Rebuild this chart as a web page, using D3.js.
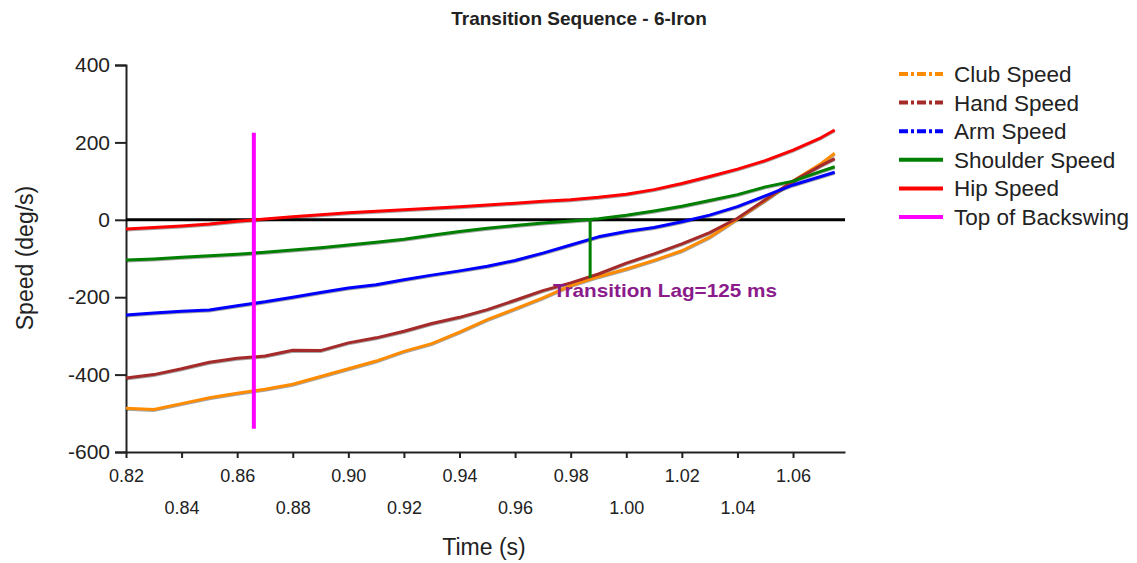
<!DOCTYPE html>
<html>
<head>
<meta charset="utf-8">
<script src="https://cdn.jsdelivr.net/npm/d3@7"></script>
<style>
  body { margin: 0; background: #fff; }
  svg { font-family: "Liberation Sans", Arial, sans-serif; }
</style>
</head>
<body>
<svg id="chart" width="1137" height="563"></svg>
<script>
// time samples (s)
const times = [0.82, 0.83, 0.84, 0.85, 0.86, 0.87, 0.88, 0.89, 0.90, 0.91, 0.92, 0.93, 0.94,
  0.95, 0.96, 0.97, 0.98, 0.99, 1.00, 1.01, 1.02, 1.03, 1.04, 1.05, 1.06, 1.07, 1.075]

// speeds (deg/s)
const clubSpeed = [-487, -490, -475, -460, -448, -438, -425, -405, -385, -365, -340, -320, -290,
  -258, -230, -202, -170, -147, -127, -105, -80, -45, 2, 50, 100, 145, 172]
const handSpeed = [-409, -400, -385, -368, -358, -352, -337, -338, -318, -305, -288, -268, -252,
  -232, -208, -183, -163, -140, -112, -88, -62, -33, 4, 52, 100, 140, 158]
const armSpeed = [-246, -241, -236, -233, -222, -212, -200, -188, -176, -168, -155, -143, -132,
  -120, -105, -86, -65, -44, -30, -20, -5, 12, 34, 62, 90, 112, 123]
const shoulderSpeed = [-104, -101, -97, -93, -89, -84, -78, -72, -65, -58, -50, -40, -30,
  -22, -15, -8, -3, 3, 12, 23, 35, 50, 65, 85, 100, 125, 137]
const hipSpeed = [-24, -20, -16, -11, -4, 2, 8, 13, 18, 22, 26, 30, 34,
  38, 43, 48, 52, 58, 66, 78, 94, 112, 131, 153, 180, 212, 232]

const seriesNames = ["Club Speed", "Hand Speed", "Arm Speed", "Shoulder Speed", "Hip Speed", "Top of Backswing"]
const seriesColors = ["#ff8c00", "#a52a2a", "#0000ff", "#008000", "#ff0000", "#ff00ff"]
const seriesValues = [clubSpeed, handSpeed, armSpeed, shoulderSpeed, hipSpeed]

// top of backswing marker and transition lag marker
const topTime = 0.866
const topRange = [225, -540]
const lagTime = 0.987
const lagRange = [0, -150]
const lagLabel = "Transition Lag=125 ms"

const xTicks = [0.82, 0.84, 0.86, 0.88, 0.90, 0.92, 0.94, 0.96, 0.98, 1.00, 1.02, 1.04, 1.06]
const yTicks = [400, 200, 0, -200, -400, -600]

const svg = d3.select("#chart")

const x = d3.scaleLinear().domain([0.82, 1.0787]).range([126, 845])
const y = d3.scaleLinear().domain([-600, 400]).range([452, 65])

// title
svg.append("text")
   .attr("x", 579).attr("y", 25)
   .attr("text-anchor", "middle")
   .attr("font-weight", "bold")
   .attr("font-size", 19)
   .attr("fill", "#222")
   .text("Transition Sequence - 6-Iron")

// y axis (plain hyphen for negatives)
const yAxis = svg.append("g")
   .attr("transform", "translate(126,0)")
   .call(d3.axisLeft(y).tickValues(yTicks).tickSize(11).tickPadding(5).tickFormat(d => String(d)))
yAxis.select(".domain").attr("stroke", "#222").attr("stroke-width", 2)
yAxis.selectAll(".tick line").attr("stroke", "#222").attr("stroke-width", 2)
yAxis.selectAll(".tick text").attr("font-size", 21).attr("fill", "#222")
     .attr("font-family", "Liberation Sans, Arial, sans-serif")

// x axis, labels staggered on two rows
const xAxis = svg.append("g")
   .attr("transform", "translate(0,452)")
   .call(d3.axisBottom(x).tickValues(xTicks).tickSize(6).tickSizeOuter(0).tickPadding(6).tickFormat(d3.format(".2f")))
xAxis.select(".domain").attr("stroke", "#222").attr("stroke-width", 2)
xAxis.selectAll(".tick line").attr("stroke", "#222").attr("stroke-width", 2)
xAxis.selectAll(".tick text").attr("font-size", 18).attr("fill", "#222")
     .attr("font-family", "Liberation Sans, Arial, sans-serif")
     .attr("y", (d, i) => i % 2 === 0 ? 17 : 49)

svg.append("text")
   .attr("x", 484).attr("y", 555)
   .attr("text-anchor", "middle")
   .attr("font-size", 23)
   .attr("fill", "#222")
   .text("Time (s)")

svg.append("text")
   .attr("transform", "translate(33,258) rotate(-90)")
   .attr("text-anchor", "middle")
   .attr("font-size", 23)
   .attr("fill", "#222")
   .text("Speed (deg/s)")

// zero line
svg.append("line")
   .attr("x1", x(0.82)).attr("x2", x.range()[1])
   .attr("y1", y(0)).attr("y2", y(0))
   .attr("stroke", "#000").attr("stroke-width", 3)

const line = d3.line()
   .x((d, i) => x(times[i]))
   .y(d => y(d))

const drawn = seriesValues.map((vals, k) => ({ vals, color: seriesColors[k] }))

// faint dark edge under each curve
svg.selectAll("path.shadow")
   .data(drawn)
   .enter()
   .append("path")
   .attr("class", "shadow")
   .attr("d", d => line(d.vals))
   .attr("transform", "translate(0,1)")
   .attr("fill", "none")
   .attr("stroke", "rgba(0,0,0,0.35)")
   .attr("stroke-width", 3)

svg.selectAll("path.series")
   .data(drawn)
   .enter()
   .append("path")
   .attr("class", "series")
   .attr("d", d => line(d.vals))
   .attr("fill", "none")
   .attr("stroke", d => d.color)
   .attr("stroke-width", 3)
   .attr("stroke-linejoin", "round")

// top of backswing
svg.append("line")
   .attr("x1", x(topTime)).attr("x2", x(topTime))
   .attr("y1", y(topRange[0])).attr("y2", y(topRange[1]))
   .attr("stroke", seriesColors[5]).attr("stroke-width", 4)

// transition lag
svg.append("line")
   .attr("x1", x(lagTime)).attr("x2", x(lagTime))
   .attr("y1", y(lagRange[0])).attr("y2", y(lagRange[1]))
   .attr("stroke", "#008000").attr("stroke-width", 3)

svg.append("text")
   .attr("x", 553).attr("y", 297)
   .attr("font-size", 19)
   .attr("font-weight", "bold")
   .attr("fill", "#8b1a8b")
   .attr("textLength", 224)
   .attr("lengthAdjust", "spacingAndGlyphs")
   .text(lagLabel)

// legend
const legend = svg.append("g")
const dashes = ["9,3,3,3", "9,3,3,3", "9,3,3,3", null, null, null]
const rows = legend.selectAll("g")
   .data(seriesNames)
   .enter()
   .append("g")
   .attr("transform", (d, i) => `translate(899,${74 + i * 28.6})`)

rows.append("line")
   .attr("x1", 0).attr("x2", 44)
   .attr("stroke", (d, i) => seriesColors[i])
   .attr("stroke-width", 4)
   .attr("stroke-dasharray", (d, i) => dashes[i])

rows.append("text")
   .attr("x", 55).attr("y", 8)
   .attr("font-size", 22.5)
   .attr("fill", "#222")
   .text(d => d)
</script>
</body>
</html>
